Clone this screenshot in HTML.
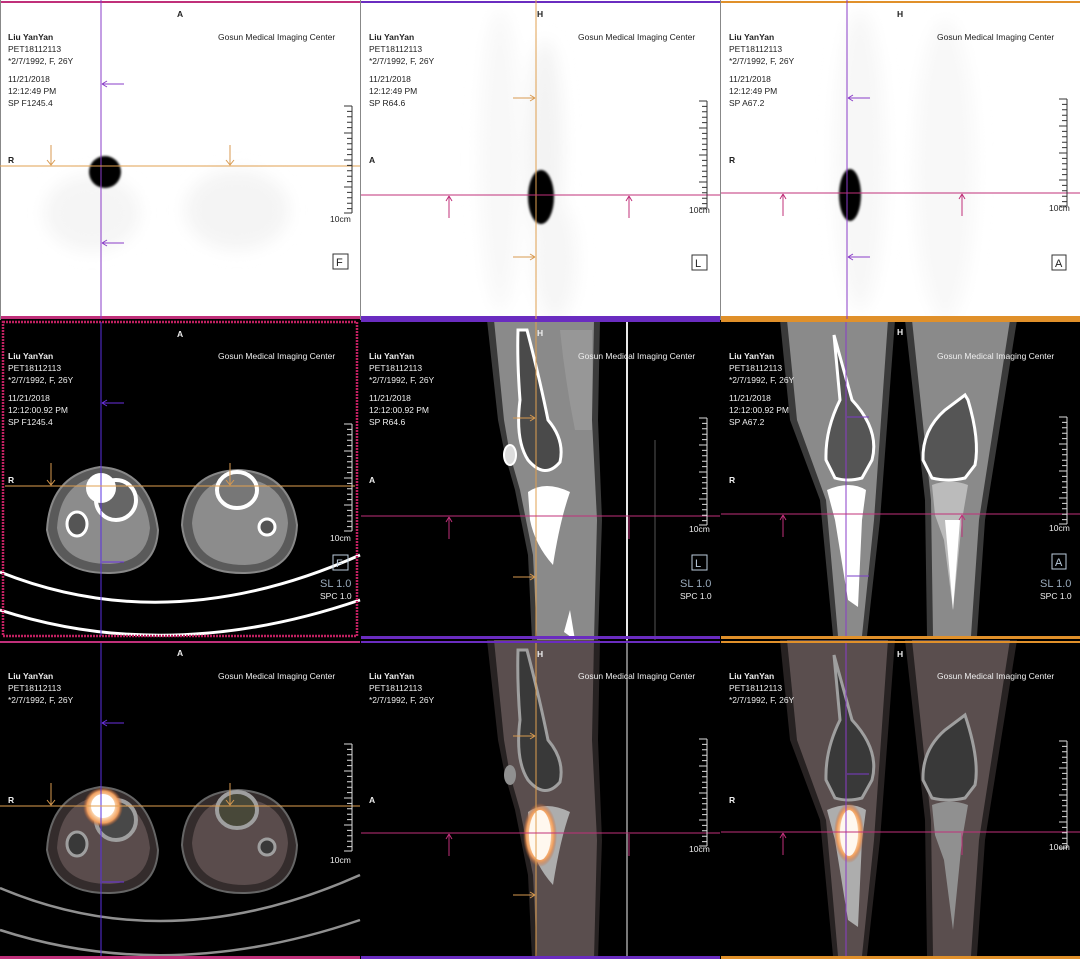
<!DOCTYPE html>
<html><head><meta charset="utf-8"><style>
html,body{margin:0;padding:0;background:#000;width:1080px;height:959px;overflow:hidden}
svg{display:block}
text{font-family:"Liberation Sans",Arial,sans-serif;font-size:8.5px}
.b{font-weight:bold}
.dk{fill:#222}
.wt{fill:#eee}
</style></head><body>
<svg width="1080" height="959" viewBox="0 0 1080 959" xmlns="http://www.w3.org/2000/svg">
<defs>
<filter id="bl8" x="-50%" y="-50%" width="200%" height="200%"><feGaussianBlur stdDeviation="8"/></filter>
<filter id="bl1"><feGaussianBlur stdDeviation="1"/></filter>
<radialGradient id="glow"><stop offset="0" stop-color="#fff"/><stop offset="0.5" stop-color="#ffe8c8"/><stop offset="0.8" stop-color="#f0a060"/><stop offset="1" stop-color="#c06030" stop-opacity="0"/></radialGradient>
<g id="scaleD" stroke="#333" stroke-width="1" fill="none">
<path d="M352 106V213M344 106h8M347 111.4h5M347 116.8h5M347 122.2h5M347 127.6h5M344 133h8M347 138.4h5M347 143.8h5M347 149.2h5M347 154.6h5M344 160h8M347 165.4h5M347 170.8h5M347 176.2h5M347 181.6h5M344 187h8M347 192.4h5M347 197.8h5M347 203.2h5M347 208.6h5M344 213h8"/>
</g>
<g id="scaleW" stroke="#ddd" stroke-width="1" fill="none">
<path d="M352 106V213M344 106h8M347 111.4h5M347 116.8h5M347 122.2h5M347 127.6h5M344 133h8M347 138.4h5M347 143.8h5M347 149.2h5M347 154.6h5M344 160h8M347 165.4h5M347 170.8h5M347 176.2h5M347 181.6h5M344 187h8M347 192.4h5M347 197.8h5M347 203.2h5M347 208.6h5M344 213h8"/>
</g>
</defs>

<!-- ============ ROW 1 (PET MIP, white) ============ -->
<rect x="0" y="0" width="1080" height="319" fill="#fff"/>
<g filter="url(#bl8)">
<ellipse cx="92" cy="213" rx="48" ry="38" fill="#f5f5f5"/>
<ellipse cx="237" cy="210" rx="52" ry="40" fill="#f4f4f4"/>
<ellipse cx="500" cy="160" rx="20" ry="150" fill="#f8f8f8"/>
<ellipse cx="545" cy="150" rx="18" ry="110" fill="#f3f3f3"/>
<ellipse cx="555" cy="260" rx="22" ry="60" fill="#f6f6f6"/>
<ellipse cx="860" cy="160" rx="25" ry="150" fill="#f7f7f7"/>
<ellipse cx="945" cy="170" rx="30" ry="150" fill="#f8f8f8"/>
</g>
<g filter="url(#bl1)">
<circle cx="105" cy="172" r="16" fill="#000"/>
<ellipse cx="541" cy="197" rx="13" ry="27" fill="#000"/>
<ellipse cx="850" cy="195" rx="11" ry="26" fill="#000"/>
</g>
<rect x="0" y="1" width="360" height="2" fill="#c0307a"/>
<rect x="361" y="1" width="359" height="2" fill="#6a2cc0"/>
<rect x="721" y="1" width="359" height="2" fill="#e0902a"/>
<rect x="0" y="316" width="360" height="3" fill="#c0307a"/>
<rect x="361" y="316" width="359" height="3" fill="#6a2cc0"/>
<rect x="721" y="316" width="359" height="3" fill="#e0902a"/>
<rect x="360" y="0" width="1" height="320" fill="#888"/>
<rect x="720" y="0" width="1" height="320" fill="#888"/>
<rect x="0" y="0" width="1" height="320" fill="#888"/>

<g stroke-width="1" fill="none">
<line x1="101" y1="0" x2="101" y2="319" stroke="#8a3cc8"/>
<line x1="0" y1="166" x2="360" y2="166" stroke="#e0a050"/>
<path d="M51 145V165M47 160l4 5 4-5M230 145V165M226 160l4 5 4-5" stroke="#d89a50"/>
<path d="M102 84h22M102 84l5-3M102 84l5 3M102 243h22M102 243l5-3M102 243l5 3" stroke="#8a3cc8"/>
<line x1="536" y1="0" x2="536" y2="319" stroke="#e0a050"/>
<line x1="361" y1="195" x2="720" y2="195" stroke="#c0307a"/>
<path d="M513 98h22M535 98l-5-3M535 98l-5 3M513 257h22M535 257l-5-3M535 257l-5 3" stroke="#d89a50"/>
<path d="M449 196v22M449 196l-3 5M449 196l3 5M629 196v22M629 196l-3 5M629 196l3 5" stroke="#c0307a"/>
<line x1="847" y1="0" x2="847" y2="319" stroke="#8a3cc8"/>
<line x1="721" y1="193" x2="1080" y2="193" stroke="#c0307a"/>
<path d="M848 98h22M848 98l5-3M848 98l5 3M848 257h22M848 257l5-3M848 257l5 3" stroke="#8a3cc8"/>
<path d="M783 194v22M783 194l-3 5M783 194l3 5M962 194v22M962 194l-3 5M962 194l3 5" stroke="#c0307a"/>
</g>

<g class="dk">
<text x="177" y="17" class="b">A</text>
<text x="8" y="40" class="b">Liu YanYan</text><text x="8" y="52">PET18112113</text><text x="8" y="64">*2/7/1992, F, 26Y</text>
<text x="8" y="82">11/21/2018</text><text x="8" y="94">12:12:49 PM</text><text x="8" y="106">SP F1245.4</text>
<text x="218" y="40">Gosun Medical Imaging Center</text>
<text x="8" y="163" class="b">R</text>
<text x="330" y="222">10cm</text>
<text x="537" y="17" class="b">H</text>
<text x="369" y="40" class="b">Liu YanYan</text><text x="369" y="52">PET18112113</text><text x="369" y="64">*2/7/1992, F, 26Y</text>
<text x="369" y="82">11/21/2018</text><text x="369" y="94">12:12:49 PM</text><text x="369" y="106">SP R64.6</text>
<text x="578" y="40">Gosun Medical Imaging Center</text>
<text x="369" y="163" class="b">A</text>
<text x="689" y="213">10cm</text>
<text x="897" y="17" class="b">H</text>
<text x="729" y="40" class="b">Liu YanYan</text><text x="729" y="52">PET18112113</text><text x="729" y="64">*2/7/1992, F, 26Y</text>
<text x="729" y="82">11/21/2018</text><text x="729" y="94">12:12:49 PM</text><text x="729" y="106">SP A67.2</text>
<text x="937" y="40">Gosun Medical Imaging Center</text>
<text x="729" y="163" class="b">R</text>
<text x="1049" y="211">10cm</text>
</g>
<use href="#scaleD"/>
<use href="#scaleD" transform="translate(355,-5)"/>
<use href="#scaleD" transform="translate(715,-7)"/>
<g fill="none" stroke="#333">
<rect x="333" y="254" width="15" height="15"/><rect x="692" y="255" width="15" height="15"/><rect x="1052" y="255" width="14" height="15"/>
</g>
<g class="dk"><text x="336" y="266" style="font-size:11px">F</text><text x="695" y="267" style="font-size:11px">L</text><text x="1055" y="267" style="font-size:11px">A</text></g>

<!-- ============ ROW 2 (CT) ============ -->
<rect x="0" y="320" width="1080" height="320" fill="#000"/>
<path d="M47 530 Q50 475 100 467 Q150 470 158 530 Q156 572 110 573 Q55 574 47 530Z" fill="#5a5a5a" stroke="#888" stroke-width="2"/>
<path d="M57 528 Q60 482 100 476 Q145 480 150 528 Q147 562 110 564 Q62 564 57 528Z" fill="#8c8c8c"/>
<path d="M182 525 Q185 472 238 470 Q290 472 297 525 Q295 572 245 573 Q187 574 182 525Z" fill="#5a5a5a" stroke="#888" stroke-width="2"/>
<path d="M192 523 Q196 480 238 478 Q285 480 288 523 Q285 564 245 565 Q195 565 192 523Z" fill="#8c8c8c"/>
<circle cx="116" cy="500" r="20" fill="#666" stroke="#fff" stroke-width="4"/>
<circle cx="101" cy="488" r="15" fill="#fff"/>
<ellipse cx="77" cy="524" rx="10" ry="12" fill="#555" stroke="#fff" stroke-width="3"/>
<ellipse cx="237" cy="490" rx="20" ry="18" fill="#777" stroke="#fff" stroke-width="4"/>
<circle cx="267" cy="527" r="8" fill="#555" stroke="#fff" stroke-width="3"/>
<path d="M0 572 Q170 640 360 555" fill="none" stroke="#fff" stroke-width="3"/>
<path d="M0 610 Q170 665 360 600" fill="none" stroke="#fff" stroke-width="3"/>
<rect x="3" y="322" width="354" height="314" fill="none" stroke="#c02060" stroke-width="2.5" stroke-dasharray="2 1"/>

<path d="M487 320 L498 420 L505 455 L515 490 L528 555 L532 640 L598 640 L602 520 L598 420 L600 320Z" fill="#3a3a3a"/>
<path d="M494 320 L504 420 L510 455 L520 490 L533 555 L537 640 L594 640 L597 520 L592 420 L594 320Z" fill="#8a8a8a"/>
<path d="M560 330 Q565 380 575 430 L592 430 L592 330Z" fill="#979797"/>
<path d="M518 330 Q517 360 520 400 Q515 440 528 460 Q545 480 560 462 Q565 440 548 420 Q540 380 527 330Z" fill="#4a4a4a" stroke="#fff" stroke-width="3"/>
<ellipse cx="510" cy="455" rx="6" ry="10" fill="#ddd" stroke="#fff" stroke-width="2"/>
<path d="M528 492 Q545 480 570 492 Q560 520 553 565 Q535 545 530 520Z" fill="#fff"/>
<path d="M564 632 L570 610 L575 640Z" fill="#fff"/>
<line x1="627" y1="320" x2="627" y2="640" stroke="#e8e8e8" stroke-width="2"/>
<line x1="655" y1="440" x2="655" y2="640" stroke="#555" stroke-width="1"/>
<path d="M780 320 L790 420 L820 500 L833 636 L867 636 L880 520 L895 320Z" fill="#3a3a3a"/>
<path d="M787 320 L797 420 L826 500 L838 636 L862 636 L874 520 L888 320Z" fill="#8a8a8a"/>
<path d="M905 320 L925 500 L927 636 L977 636 L985 520 L1017 320Z" fill="#3a3a3a"/>
<path d="M912 320 L931 500 L933 636 L971 636 L979 520 L1010 320Z" fill="#8a8a8a"/>
<path d="M834 335 L852 400 Q880 430 872 460 L862 478 Q848 482 835 478 L826 460 Q825 430 840 400Z" fill="#555" stroke="#fff" stroke-width="3"/>
<path d="M827 490 Q850 480 866 490 L862 520 L858 607 L848 600 L835 520Z" fill="#fff"/>
<path d="M965 395 L968 400 Q980 440 975 465 L965 478 Q948 482 932 478 L923 460 Q922 430 945 410Z" fill="#555" stroke="#fff" stroke-width="3"/>
<path d="M932 485 Q950 478 968 485 L962 520 L953 610 L944 540 L935 515Z" fill="#bbb"/>
<path d="M945 520 L960 520 L953 610Z" fill="#fff"/>
<rect x="361" y="319" width="359" height="3" fill="#6a2cc0"/>
<rect x="721" y="319" width="359" height="3" fill="#e0902a"/>
<rect x="361" y="636" width="359" height="3" fill="#6a2cc0"/>
<rect x="721" y="636" width="359" height="3" fill="#e0902a"/>
<g stroke-width="1" fill="none">
<line x1="101" y1="322" x2="101" y2="636" stroke="#5a30e0"/>
<line x1="5" y1="486" x2="355" y2="486" stroke="#e0a050"/>
<path d="M51 463V485M47 480l4 5 4-5M230 463V485M226 480l4 5 4-5" stroke="#d89a50"/>
<path d="M102 403h22M102 403l5-3M102 403l5 3M102 562h22" stroke="#6a30e0"/>
<line x1="536" y1="322" x2="536" y2="636" stroke="#e0a050"/>
<line x1="361" y1="516" x2="720" y2="516" stroke="#c0307a"/>
<path d="M513 418h22M535 418l-5-3M535 418l-5 3M513 577h22M535 577l-5-3M535 577l-5 3" stroke="#d89a50"/>
<path d="M449 517v22M449 517l-3 5M449 517l3 5M629 517v22" stroke="#c0307a"/>
<line x1="846" y1="322" x2="846" y2="636" stroke="#8a3cc8"/>
<line x1="721" y1="514" x2="1080" y2="514" stroke="#c0307a"/>
<path d="M847 417h22M847 576h22" stroke="#7a3cc8"/>
<path d="M783 515v22M783 515l-3 5M783 515l3 5M962 515v22M962 515l-3 5M962 515l3 5" stroke="#c0307a"/>
</g>
<g class="wt">
<text x="177" y="337" class="b">A</text>
<text x="8" y="359" class="b">Liu YanYan</text><text x="8" y="371">PET18112113</text><text x="8" y="383">*2/7/1992, F, 26Y</text>
<text x="8" y="401">11/21/2018</text><text x="8" y="413">12:12:00.92 PM</text><text x="8" y="425">SP F1245.4</text>
<text x="218" y="359">Gosun Medical Imaging Center</text>
<text x="8" y="483" class="b">R</text>
<text x="330" y="541">10cm</text>
<text x="537" y="336" class="b">H</text>
<text x="369" y="359" class="b">Liu YanYan</text><text x="369" y="371">PET18112113</text><text x="369" y="383">*2/7/1992, F, 26Y</text>
<text x="369" y="401">11/21/2018</text><text x="369" y="413">12:12:00.92 PM</text><text x="369" y="425">SP R64.6</text>
<text x="578" y="359">Gosun Medical Imaging Center</text>
<text x="369" y="483" class="b">A</text>
<text x="689" y="532">10cm</text>
<text x="897" y="335" class="b">H</text>
<text x="729" y="359" class="b">Liu YanYan</text><text x="729" y="371">PET18112113</text><text x="729" y="383">*2/7/1992, F, 26Y</text>
<text x="729" y="401">11/21/2018</text><text x="729" y="413">12:12:00.92 PM</text><text x="729" y="425">SP A67.2</text>
<text x="937" y="359">Gosun Medical Imaging Center</text>
<text x="729" y="483" class="b">R</text>
<text x="1049" y="531">10cm</text>
<text x="320" y="587" style="font-size:11px;fill:#9ab">SL 1.0</text><text x="320" y="599">SPC 1.0</text>
<text x="680" y="587" style="font-size:11px;fill:#9ab">SL 1.0</text><text x="680" y="599">SPC 1.0</text>
<text x="1040" y="587" style="font-size:11px;fill:#9ab">SL 1.0</text><text x="1040" y="599">SPC 1.0</text>
</g>
<use href="#scaleW" transform="translate(0,318)"/>
<use href="#scaleW" transform="translate(355,312)"/>
<use href="#scaleW" transform="translate(715,311)"/>
<g fill="none" stroke="#bcd"><rect x="333" y="555" width="15" height="15"/><rect x="692" y="555" width="15" height="15"/><rect x="1052" y="554" width="14" height="15"/></g>
<g style="fill:#bcd"><text x="336" y="567" style="font-size:11px">F</text><text x="695" y="567" style="font-size:11px">L</text><text x="1055" y="566" style="font-size:11px">A</text></g>

<!-- ============ ROW 3 (fused) ============ -->
<rect x="0" y="640" width="1080" height="319" fill="#000"/>
<g opacity="0.85">
<path d="M47 850 Q50 795 100 787 Q150 790 158 850 Q156 892 110 893 Q55 894 47 850Z" fill="#3e3434" stroke="#777" stroke-width="2"/>
<path d="M57 848 Q60 802 100 796 Q145 800 150 848 Q147 882 110 884 Q62 884 57 848Z" fill="#6a5a5a"/>
<path d="M182 845 Q185 792 238 790 Q290 792 297 845 Q295 892 245 893 Q187 894 182 845Z" fill="#3e3434" stroke="#777" stroke-width="2"/>
<path d="M192 843 Q196 800 238 798 Q285 800 288 843 Q285 884 245 885 Q195 885 192 843Z" fill="#6a5a5a"/>
<circle cx="116" cy="820" r="20" fill="#555" stroke="#bbb" stroke-width="4"/>
<ellipse cx="77" cy="844" rx="10" ry="12" fill="#444" stroke="#bbb" stroke-width="3"/>
<ellipse cx="237" cy="810" rx="20" ry="18" fill="#554" stroke="#bbb" stroke-width="4"/>
<circle cx="267" cy="847" r="8" fill="#444" stroke="#bbb" stroke-width="3"/>
<path d="M0 888 Q170 960 360 875" fill="none" stroke="#aaa" stroke-width="2.5"/>
<path d="M0 930 Q170 985 360 920" fill="none" stroke="#aaa" stroke-width="2.5"/>
<path d="M487 640 L498 740 L505 775 L515 810 L528 875 L532 959 L598 959 L602 840 L598 740 L600 640Z" fill="#2e2828"/>
<path d="M494 640 L504 740 L510 775 L520 810 L533 875 L537 959 L594 959 L597 840 L592 740 L594 640Z" fill="#6a5c5c"/>
<path d="M518 650 Q517 680 520 720 Q515 760 528 780 Q545 800 560 782 Q565 760 548 740 Q540 700 527 650Z" fill="#444" stroke="#bbb" stroke-width="3"/>
<ellipse cx="510" cy="775" rx="6" ry="10" fill="#aaa"/>
<path d="M528 812 Q545 800 570 812 Q560 840 553 885 Q535 865 530 840Z" fill="#ccc"/>
<line x1="627" y1="640" x2="627" y2="959" stroke="#bbb" stroke-width="1.5"/>
<path d="M780 640 L790 740 L820 820 L833 956 L867 956 L880 840 L895 640Z" fill="#2e2828"/>
<path d="M787 640 L797 740 L826 820 L838 956 L862 956 L874 840 L888 640Z" fill="#6a5c5c"/>
<path d="M905 640 L925 820 L927 956 L977 956 L985 840 L1017 640Z" fill="#2e2828"/>
<path d="M912 640 L931 820 L933 956 L971 956 L979 840 L1010 640Z" fill="#6a5c5c"/>
<path d="M834 655 L852 720 Q880 750 872 780 L862 798 Q848 802 835 798 L826 780 Q825 750 840 720Z" fill="#444" stroke="#bbb" stroke-width="3"/>
<path d="M827 810 Q850 800 866 810 L862 840 L858 927 L848 920 L835 840Z" fill="#ccc"/>
<path d="M965 715 Q980 760 975 785 L965 798 Q948 802 932 798 L923 780 Q922 750 945 730Z" fill="#444" stroke="#bbb" stroke-width="3"/>
<path d="M932 805 Q950 798 968 805 L962 840 L953 930 L944 860 L935 835Z" fill="#aaa"/>
</g>
<circle cx="103" cy="807" r="20" fill="url(#glow)"/>
<circle cx="103" cy="806" r="12" fill="#fff"/>
<ellipse cx="540" cy="835" rx="17" ry="32" fill="url(#glow)"/>
<ellipse cx="540" cy="835" rx="11" ry="25" fill="#fff8ef"/>
<ellipse cx="849" cy="833" rx="15" ry="30" fill="url(#glow)"/>
<ellipse cx="849" cy="833" rx="9" ry="23" fill="#fff8ef"/>
<rect x="0" y="641" width="360" height="2" fill="#c0307a"/>
<rect x="361" y="641" width="359" height="2" fill="#6a2cc0"/>
<rect x="721" y="641" width="359" height="2" fill="#e0902a"/>
<rect x="0" y="956" width="360" height="3" fill="#c0307a"/>
<rect x="361" y="956" width="359" height="3" fill="#6a2cc0"/>
<rect x="721" y="956" width="359" height="3" fill="#e0902a"/>
<g stroke-width="1" fill="none">
<line x1="101" y1="643" x2="101" y2="956" stroke="#5a30e0"/>
<line x1="0" y1="806" x2="360" y2="806" stroke="#e0a050"/>
<path d="M51 783V805M47 800l4 5 4-5M230 783V805M226 800l4 5 4-5" stroke="#d89a50"/>
<path d="M102 723h22M102 723l5-3M102 723l5 3M102 882h22" stroke="#6a30e0"/>
<line x1="536" y1="643" x2="536" y2="956" stroke="#e0a050"/>
<line x1="361" y1="833" x2="720" y2="833" stroke="#c0307a"/>
<path d="M513 736h22M535 736l-5-3M535 736l-5 3M513 895h22M535 895l-5-3M535 895l-5 3" stroke="#d89a50"/>
<path d="M449 834v22M449 834l-3 5M449 834l3 5M629 834v22" stroke="#c0307a"/>
<line x1="846" y1="643" x2="846" y2="956" stroke="#8a3cc8"/>
<line x1="721" y1="832" x2="1080" y2="832" stroke="#c0307a"/>
<path d="M847 774h22M847 993h22" stroke="#7a3cc8"/>
<path d="M783 833v22M783 833l-3 5M783 833l3 5M962 833v22" stroke="#c0307a"/>
</g>
<g class="wt">
<text x="177" y="656" class="b">A</text>
<text x="8" y="679" class="b">Liu YanYan</text><text x="8" y="691">PET18112113</text><text x="8" y="703">*2/7/1992, F, 26Y</text>
<text x="218" y="679">Gosun Medical Imaging Center</text>
<text x="8" y="803" class="b">R</text>
<text x="330" y="863">10cm</text>
<text x="537" y="657" class="b">H</text>
<text x="369" y="679" class="b">Liu YanYan</text><text x="369" y="691">PET18112113</text><text x="369" y="703">*2/7/1992, F, 26Y</text>
<text x="578" y="679">Gosun Medical Imaging Center</text>
<text x="369" y="803" class="b">A</text>
<text x="689" y="852">10cm</text>
<text x="897" y="657" class="b">H</text>
<text x="729" y="679" class="b">Liu YanYan</text><text x="729" y="691">PET18112113</text><text x="729" y="703">*2/7/1992, F, 26Y</text>
<text x="937" y="679">Gosun Medical Imaging Center</text>
<text x="729" y="803" class="b">R</text>
<text x="1049" y="850">10cm</text>
</g>
<use href="#scaleW" transform="translate(0,638)"/>
<use href="#scaleW" transform="translate(355,633)"/>
<use href="#scaleW" transform="translate(715,635)"/>
</svg>
</body></html>
